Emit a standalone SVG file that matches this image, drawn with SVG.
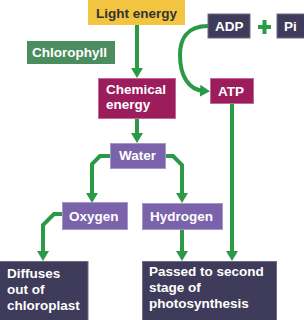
<svg xmlns="http://www.w3.org/2000/svg" width="304" height="320" viewBox="0 0 304 320">
<defs>
<marker id="ah" viewBox="0 0 10 12" refX="4" refY="6" markerWidth="10" markerHeight="12" markerUnits="userSpaceOnUse" orient="auto">
<path d="M0,0 L10,6 L0,12 z" fill="#2A9A46"/>
</marker>
<style>
text{font-family:"Liberation Sans",Arial,sans-serif;font-weight:bold;font-size:13.5px;fill:#fff}
.c{fill:none;stroke:#2A9A46;stroke-width:4;stroke-linejoin:miter}
.a{marker-end:url(#ah)}
.yel{fill:#F3C43F}
.grn{fill:#4A8D5E}
.mag{fill:#9B1D5C;stroke:#C06A95;stroke-width:1}
.pur{fill:#7A63AA;stroke:#A897CB;stroke-width:1}
.drk{fill:#3F3B5B;stroke:#6E6A88;stroke-width:1}
</style>
</defs>
<g id="connectors">
<line class="c a" x1="137" y1="25" x2="137" y2="72"/>
<path class="c a" d="M208,26 C186,26 180,40 180,55 C180,75 188,90 204,91"/>
<line class="c a" x1="137" y1="118" x2="137" y2="137"/>
<path class="c a" d="M110,156 L100,156 L92,164 L92,197"/>
<path class="c a" d="M165,156 L173,156 L182,165 L182,197"/>
<path class="c a" d="M62,214 L54,214 L43,225 L43,255"/>
<line class="c a" x1="182" y1="229" x2="182" y2="255"/>
<line class="c a" x1="232" y1="104" x2="232" y2="255"/>
<path d="M258,27 L271,27 M264.5,20 L264.5,34" fill="none" stroke="#2A9A46" stroke-width="4"/>
</g>
<g id="light"><rect class="yel" x="88" y="0" width="97" height="25"/><text x="96" y="18" style="fill:#333">Light energy</text></g>
<g id="adp"><rect class="drk" x="208" y="14" width="42" height="24"/><text x="215" y="31">ADP</text></g>
<g id="pi"><rect class="drk" x="277" y="14" width="28" height="24"/><text x="284" y="31">Pi</text></g>
<g id="chlorophyll"><rect class="grn" x="27" y="41" width="88" height="23"/><text x="32" y="57">Chlorophyll</text></g>
<g id="chemical"><rect class="mag" x="98.5" y="78.5" width="77" height="40"/><text x="106" y="94">Chemical</text><text x="106" y="109">energy</text></g>
<g id="atp"><rect class="mag" x="210.5" y="78.5" width="43" height="25"/><text x="218" y="96">ATP</text></g>
<g id="water"><rect class="pur" x="110.5" y="143.5" width="55" height="25"/><text x="119" y="160">Water</text></g>
<g id="oxygen"><rect class="pur" x="62.5" y="202.5" width="65" height="27"/><text x="69" y="221">Oxygen</text></g>
<g id="hydrogen"><rect class="pur" x="142.5" y="203.5" width="80" height="26"/><text x="150" y="221">Hydrogen</text></g>
<g id="diffuses"><rect class="drk" x="-1" y="261.5" width="89" height="60"/><text x="7" y="278">Diffuses</text><text x="7" y="294">out of</text><text x="7" y="310">chloroplast</text></g>
<g id="passed"><rect class="drk" x="142.5" y="261.5" width="134" height="60"/><text x="149" y="276">Passed to second</text><text x="149" y="292">stage of</text><text x="149" y="308">photosynthesis</text></g>
</svg>
